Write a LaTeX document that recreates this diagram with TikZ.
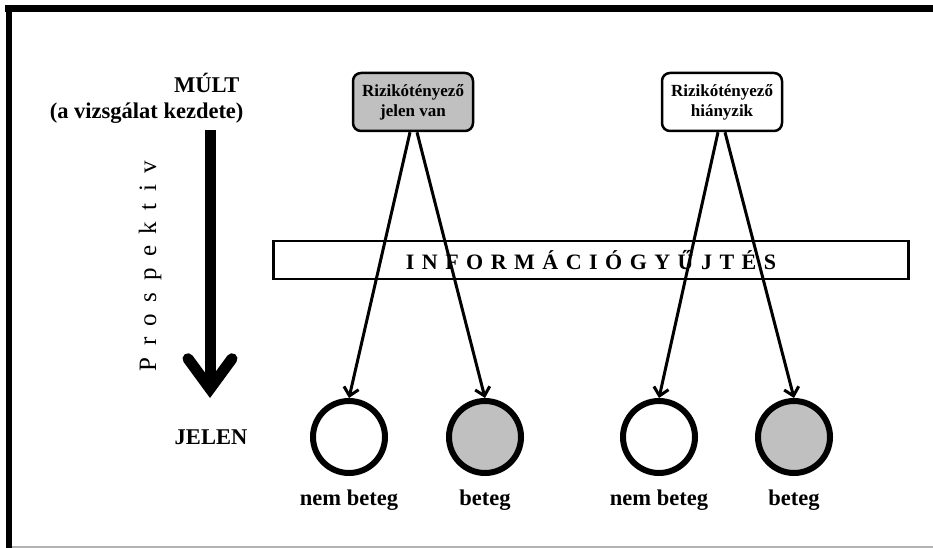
\documentclass[tikz,border=0pt]{standalone}
\usepackage{fontspec}
\setmainfont{Liberation Serif}
\usetikzlibrary{arrows.meta,positioning}
\definecolor{silver}{RGB}{192,192,192}
\tikzset{riskbox/.style={draw,line width=2.5pt,rounded corners=8pt,minimum width=120pt,
minimum height=58pt,align=center,inner sep=2pt,font=\fontsize{17}{20}\selectfont\bfseries},
outcome/.style={circle,draw,line width=6pt,minimum size=72pt,inner sep=0pt},
caption/.style={font=\fontsize{22.5}{26}\selectfont\bfseries},
link/.style={line width=3pt,-{Straight Barb[length=8pt,width=15pt]}}}

\begin{document}
\begin{tikzpicture}[x=1pt,y=-1pt]
\useasboundingbox (0,0) rectangle (933,548);
% frame
\draw[line width=7pt] (5,8.5) -- (933,8.5);
\draw[line width=6pt] (9,5) -- (9,548);
\draw[gray!60,line width=2pt] (12,547) -- (933,547);

% time axis
\node[caption,anchor=base east] (mult) at (243,93) {MÚLT};
\node[caption,anchor=base east] (kezdet) at (247,119) {(a vizsgálat kezdete)};
\node[caption] (jelen) at (211,437) {JELEN};
\coordinate (tstart) at (210,130);
\coordinate (tend) at (210,398);
\draw[line width=11pt,-{Straight Barb[length=30pt,width=44pt,line cap=round]}] (tstart) -- (tend);
\node[rotate=90,font=\fontsize{25}{28}\selectfont\addfontfeature{LetterSpace=46}] (prosp) at (150,266) {Prospektiv};

% information band
\node[draw,fill=white,line width=2.5pt,minimum width=635pt,minimum height=38pt,
font=\fontsize{22}{24}\selectfont\bfseries\addfontfeature{LetterSpace=34}] (info) at (591,260) {INFORMÁCIÓGYŰJTÉS};

% risk factor groups
\node[riskbox,fill=silver] (rfvan) at (413,102) {Rizikótényező\\jelen van};
\node[riskbox,fill=white] (rfnincs) at (722,102) {Rizikótényező\\hiányzik};

% outcomes
\node[outcome] (c1) at (349,437) {};
\node[outcome,fill=silver] (c2) at (485,437) {};
\node[outcome] (c3) at (659,437) {};
\node[outcome,fill=silver] (c4) at (794,437) {};
\node[caption,below=10pt of c1] (l1) {nem beteg};
\node[caption,below=10pt of c2] (l2) {beteg};
\node[caption,below=10pt of c3] (l3) {nem beteg};
\node[caption,below=10pt of c4] (l4) {beteg};

\draw[link] ([xshift=-3pt]rfvan.south) -- (c1.north);
\draw[link] ([xshift=4pt]rfvan.south) -- (c2.north);
\draw[link] ([xshift=-4pt]rfnincs.south) -- (c3.north);
\draw[link] ([xshift=3pt]rfnincs.south) -- (c4.north);
\end{tikzpicture}
\end{document}
